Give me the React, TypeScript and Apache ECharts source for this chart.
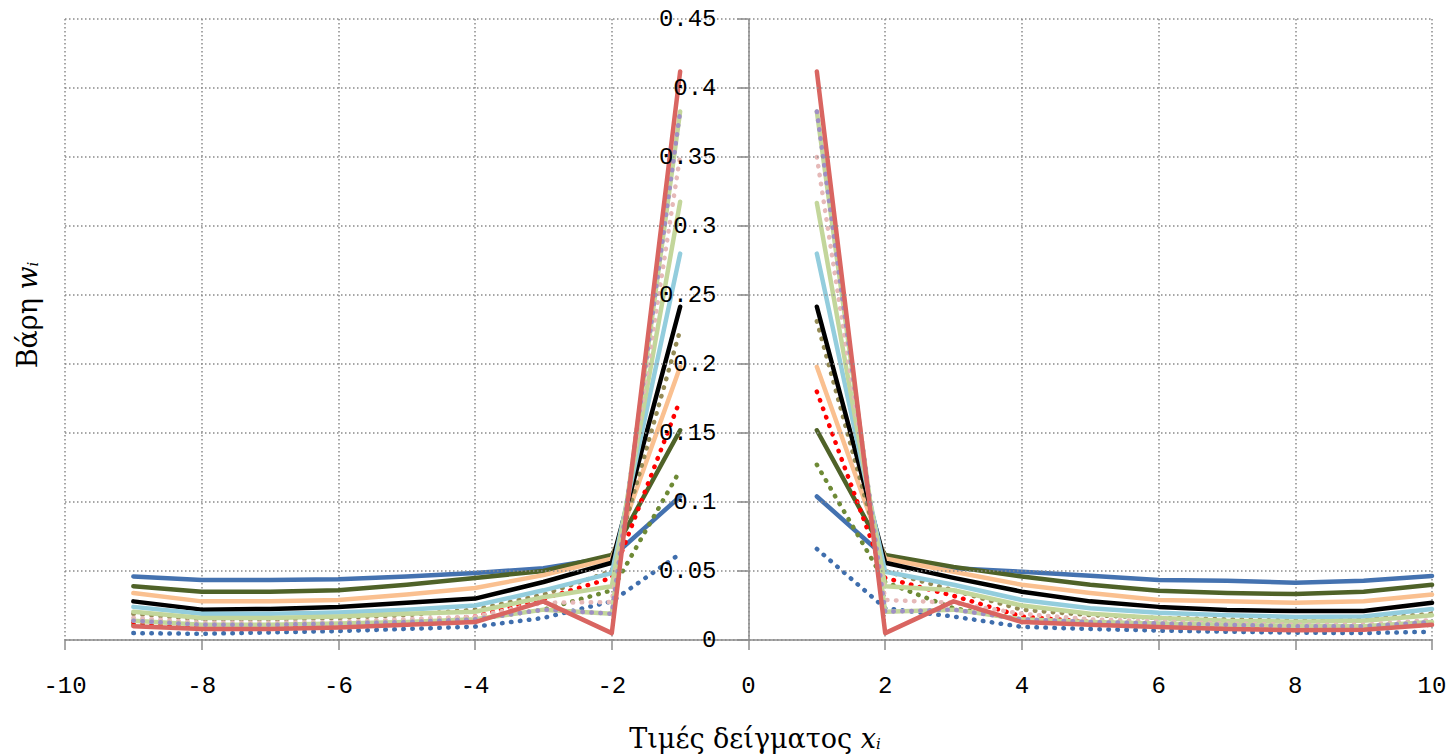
import React, { useEffect, useRef } from "react";
import * as echarts from "echarts";

const X_LEFT = [-9, -8, -7, -6, -5, -4, -3, -2, -1];
const X_RIGHT = [1, 2, 3, 4, 5, 6, 7, 8, 9, 10];
const X_TICKS = [-10, -8, -6, -4, -2, 0, 2, 4, 6, 8, 10];
const Y_TICKS = [0, 0.05, 0.1, 0.15, 0.2, 0.25, 0.3, 0.35, 0.4, 0.45];
const X_TITLE = "{a|Τιμές δείγματος }{x|x}{s|i}";
const Y_TITLE = "{a|Βάρη }{x|w}{s|i}";

// values at X_LEFT / X_RIGHT
const blueDotL = [0.005, 0.0045, 0.0055, 0.0065, 0.008, 0.0097, 0.016, 0.028, 0.0625];
const blueDotR = [0.066, 0.023, 0.017, 0.0095, 0.008, 0.0068, 0.006, 0.0053, 0.005, 0.006];
const blueL = [0.046, 0.0435, 0.0435, 0.044, 0.046, 0.0485, 0.052, 0.06, 0.104];
const blueR = [0.104, 0.06, 0.052, 0.0495, 0.0465, 0.0435, 0.043, 0.0415, 0.043, 0.0464];
const oliveDotL = [0.011, 0.009, 0.009, 0.01, 0.012, 0.015, 0.022, 0.036, 0.123];
const oliveDotR = [0.127, 0.042, 0.023, 0.015, 0.012, 0.01, 0.009, 0.009, 0.009, 0.011];
const greenL = [0.039, 0.035, 0.035, 0.036, 0.04, 0.045, 0.05, 0.0616, 0.152];
const greenR = [0.152, 0.0616, 0.053, 0.046, 0.04, 0.0357, 0.034, 0.0333, 0.035, 0.04];
const redDotL = [0.013, 0.01, 0.01, 0.011, 0.013, 0.017, 0.03, 0.045, 0.174];
const redDotR = [0.18, 0.045, 0.032, 0.017, 0.013, 0.011, 0.01, 0.009, 0.009, 0.012];
const peachL = [0.034, 0.028, 0.028, 0.029, 0.033, 0.0377, 0.047, 0.059, 0.198];
const peachR = [0.198, 0.059, 0.0495, 0.04, 0.034, 0.029, 0.028, 0.027, 0.028, 0.033];
const khakiDotL = [0.019, 0.015, 0.015, 0.016, 0.018, 0.022, 0.033, 0.05, 0.2246];
const khakiDotR = [0.231, 0.05, 0.036, 0.022, 0.018, 0.016, 0.015, 0.014, 0.015, 0.019];
const blackL = [0.028, 0.022, 0.0225, 0.024, 0.027, 0.03, 0.042, 0.056, 0.2415];
const blackR = [0.2415, 0.056, 0.045, 0.035, 0.028, 0.024, 0.0217, 0.021, 0.021, 0.027];
const lightBlueL = [0.024, 0.019, 0.019, 0.02, 0.022, 0.025, 0.036, 0.0485, 0.28];
const lightBlueR = [0.28, 0.0495, 0.04, 0.029, 0.023, 0.0198, 0.018, 0.0167, 0.017, 0.0225];
const lightGreenL = [0.0205, 0.016, 0.016, 0.017, 0.019, 0.0205, 0.031, 0.039, 0.3176];
const lightGreenR = [0.3167, 0.039, 0.036, 0.025, 0.019, 0.016, 0.014, 0.0133, 0.014, 0.018];
const pinkDotL = [0.016, 0.0125, 0.0125, 0.013, 0.015, 0.017, 0.027, 0.0275, 0.351];
const pinkDotR = [0.35, 0.029, 0.027, 0.019, 0.015, 0.0133, 0.012, 0.011, 0.011, 0.0145];
const lavenderDotL = [0.014, 0.011, 0.011, 0.012, 0.013, 0.015, 0.022, 0.019, 0.383];
const lavenderDotR = [0.383, 0.0205, 0.022, 0.015, 0.013, 0.012, 0.011, 0.01, 0.01, 0.013];
const redL = [0.01, 0.008, 0.008, 0.009, 0.011, 0.013, 0.028, 0.005, 0.412];
const redR = [0.412, 0.005, 0.028, 0.013, 0.011, 0.0094, 0.008, 0.007, 0.0075, 0.011];

type Curve = { name: string; color: string; dotted: boolean; left: number[]; right: number[] };

const CURVES: Curve[] = [
  { name: "blueDot", color: "#3F6EAD", dotted: true, left: blueDotL, right: blueDotR },
  { name: "blue", color: "#4472B0", dotted: false, left: blueL, right: blueR },
  { name: "oliveDot", color: "#6E8A36", dotted: true, left: oliveDotL, right: oliveDotR },
  { name: "green", color: "#4F6228", dotted: false, left: greenL, right: greenR },
  { name: "redDot", color: "#FF0000", dotted: true, left: redDotL, right: redDotR },
  { name: "peach", color: "#FAC090", dotted: false, left: peachL, right: peachR },
  { name: "khakiDot", color: "#948A54", dotted: true, left: khakiDotL, right: khakiDotR },
  { name: "black", color: "#000000", dotted: false, left: blackL, right: blackR },
  { name: "lightBlue", color: "#93CDDD", dotted: false, left: lightBlueL, right: lightBlueR },
  { name: "lightGreen", color: "#C3D69B", dotted: false, left: lightGreenL, right: lightGreenR },
  { name: "pinkDot", color: "#E6B9B8", dotted: true, left: pinkDotL, right: pinkDotR },
  { name: "lightGreen2", color: "#C3D69B", dotted: false, left: lavenderDotL, right: lavenderDotR },
  { name: "lavenderDot", color: "#9F8FC4", dotted: true, left: lavenderDotL, right: lavenderDotR },
  { name: "red", color: "#D96561", dotted: false, left: redL, right: redR },
];

const GRID_LEFT = 65;
const GRID_RIGHT = 14;
const WIDTH = 1446;

export default function App() {
  const ref = useRef<HTMLDivElement>(null);
  useEffect(() => {
    if (!ref.current) return;
    const chart = echarts.init(ref.current, null, { renderer: "svg" });
    const series: any[] = [];
    CURVES.forEach((c) => {
      [
        [X_LEFT, c.left],
        [X_RIGHT, c.right],
      ].forEach(([xs, ys], k) => {
        series.push({
          name: c.name + (k === 0 ? "L" : "R"),
          type: "line",
          data: (xs as number[]).map((x, i) => [x, (ys as number[])[i]]),
          showSymbol: false,
          symbol: "none",
          lineStyle: c.dotted
            ? { color: c.color, width: 4.5, type: [0.5, 8.5], cap: "round" }
            : { color: c.color, width: 4.5, cap: "round", join: "round" },
          z: 2,
        });
      });
    });
    const axisFont = { fontFamily: "Liberation Mono", fontSize: 24, color: "#000" };
    const titleFont = "DejaVu Serif";
    const titleRich = {
      a: { fontFamily: titleFont, fontSize: 27, color: "#000" },
      x: { fontFamily: titleFont, fontSize: 27, fontStyle: "italic", color: "#000" },
      s: { fontFamily: titleFont, fontSize: 15, fontStyle: "italic", color: "#000", padding: [12, 0, 0, 0] },
    };
    const plotW = WIDTH - GRID_LEFT - GRID_RIGHT;
    const zeroOffset = -plotW * (0 - X_TICKS[0]) / (X_TICKS[X_TICKS.length - 1] - X_TICKS[0]);
    chart.setOption({
      animation: false,
      backgroundColor: "#fff",
      grid: { left: GRID_LEFT, right: GRID_RIGHT, top: 19, bottom: 114, containLabel: false, outerBoundsMode: "none" },
      graphic: [
        {
          type: "text",
          x: 755,
          y: 738,
          style: { text: X_TITLE, rich: titleRich, align: "center", verticalAlign: "middle" },
        },
        {
          type: "text",
          x: 27,
          y: 315,
          rotation: Math.PI / 2,
          style: { text: Y_TITLE, rich: titleRich, align: "center", verticalAlign: "middle" },
        },
      ],
      xAxis: {
        type: "value",
        min: X_TICKS[0],
        max: X_TICKS[X_TICKS.length - 1],
        interval: 2,
        axisLine: { onZero: false, lineStyle: { color: "#8c8c8c", width: 1.5 } },
        axisTick: { show: true, length: 10, lineStyle: { color: "#8c8c8c", width: 1.5 } },
        axisLabel: { ...axisFont, margin: 34 },
        splitLine: { show: true, lineStyle: { color: "#8a8a8a", width: 1.5, type: [1.5, 2.5] } },
      },
      yAxis: {
        type: "value",
        min: Y_TICKS[0],
        max: Y_TICKS[Y_TICKS.length - 1],
        interval: 0.05,
        z: 3,
        offset: zeroOffset,
        axisLine: { show: true, onZero: false, lineStyle: { color: "#8c8c8c", width: 1.5 } },
        axisTick: { show: true, length: 11, lineStyle: { color: "#8c8c8c", width: 1.5 } },
        axisLabel: { ...axisFont, margin: 32 },
        splitLine: { show: true, lineStyle: { color: "#8a8a8a", width: 1.5, type: [1.5, 2.5] } },
      },
      series,
    });
    return () => chart.dispose();
  }, []);
  return (
    <div
      ref={ref}
      style={{ position: "fixed", left: 0, top: 0, width: WIDTH, height: 754, background: "#fff" }}
    />
  );
}
